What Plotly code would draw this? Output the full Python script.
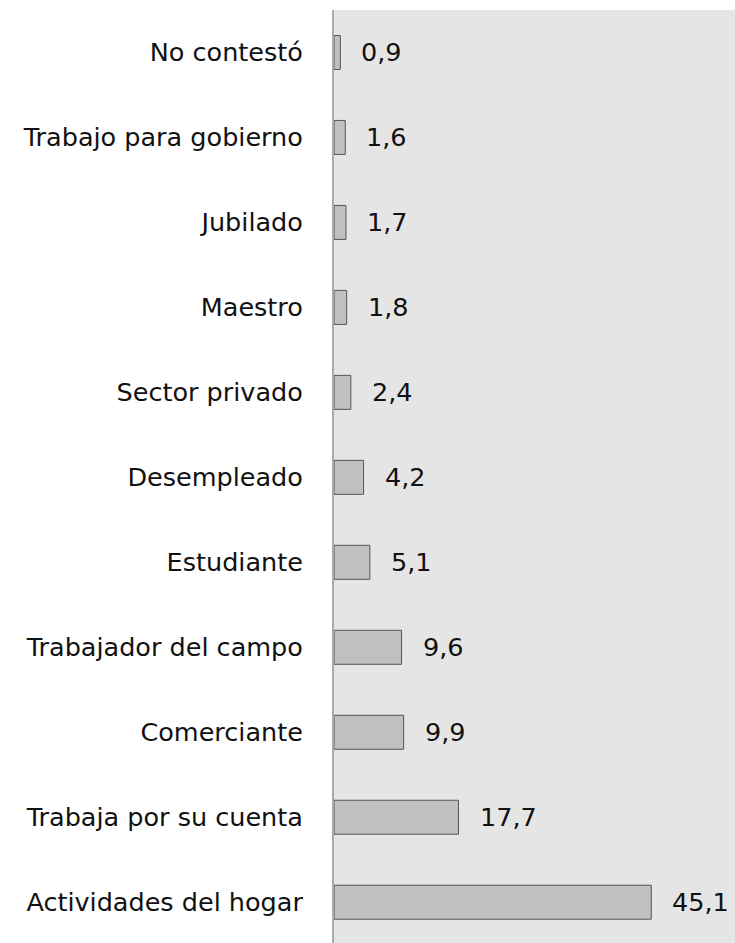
import plotly.graph_objects as go

categories = ["Actividades del hogar", "Trabaja por su cuenta", "Comerciante",
              "Trabajador del campo", "Estudiante", "Desempleado", "Sector privado",
              "Maestro", "Jubilado", "Trabajo para gobierno", "No contestó"]
values = [45.1, 17.7, 9.9, 9.6, 5.1, 4.2, 2.4, 1.8, 1.7, 1.6, 0.9]
labels = [f"{v:.1f}".replace(".", ",") for v in values]

FONT = "DejaVu Sans"
FS = 25.5

fig = go.Figure()
fig.add_trace(go.Bar(
    y=categories, x=values, orientation="h",
    marker=dict(color="#c0c0c0", line=dict(color="#555555", width=1)),
    width=0.4, hoverinfo="skip",
))

for c, v, t in zip(categories, values, labels):
    fig.add_annotation(x=v, y=c, text=t, showarrow=False, xanchor="left",
                       yanchor="middle", xshift=19,
                       font=dict(family=FONT, size=FS, color="#111111"))

fig.update_layout(
    width=735, height=943,
    margin=dict(l=334, r=0, t=10, b=0),
    paper_bgcolor="white", plot_bgcolor="#e5e5e5",
    showlegend=False,
    font=dict(family=FONT, size=FS, color="#111111"),
    xaxis=dict(range=[0, 57], showgrid=False, zeroline=False, showticklabels=False,
               showline=False, fixedrange=True),
    yaxis=dict(categoryorder="array", categoryarray=categories,
               range=[-0.48, 10.5], showgrid=False, zeroline=False,
               showline=True, linecolor="#aaaaaa", linewidth=2,
               ticks="", ticklabelstandoff=24, automargin=False, fixedrange=True,
               tickfont=dict(family=FONT, size=FS, color="#111111")),
)

fig.write_html("out.html",
               config={"displayModeBar": False, "staticPlot": True},
               post_script="document.body.style.margin='0';document.body.style.overflow='hidden';")
